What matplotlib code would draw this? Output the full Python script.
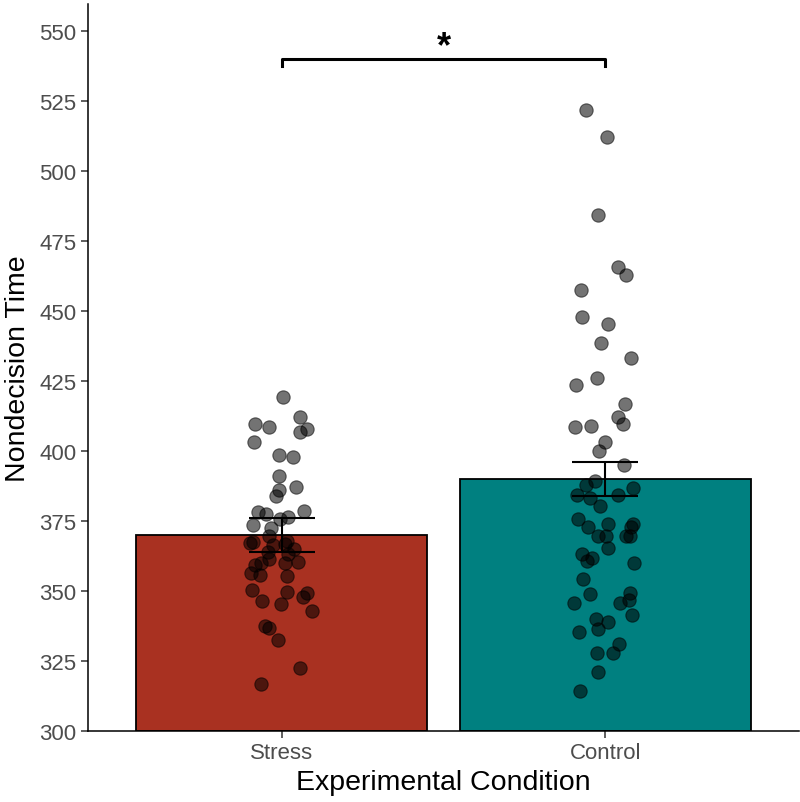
import matplotlib.pyplot as plt
import numpy as np

plt.rcParams['font.family'] = ['Liberation Sans', 'DejaVu Sans']

conditions = ['Stress', 'Control']
bar_means = [369.9, 389.9]
bar_se = [6.2, 6.0]
bar_colors = ['#A93121', '#008080']

stress_vals = [419.1, 412.1, 409.5, 408.4, 407.8, 406.8, 403.2, 398.6, 397.6, 391.0,
               386.9, 386.1, 383.7, 378.2, 377.4, 378.6, 376.4, 375.6, 373.6, 372.3,
               369.6, 367.3, 367.0, 366.3, 367.9, 366.7, 364.9, 363.9, 363.1, 361.3,
               359.9, 359.3, 359.8, 360.4, 356.2, 355.6, 355.1, 350.1, 349.4, 349.1,
               347.9, 346.4, 345.1, 342.8, 337.3, 336.6, 332.5, 322.3, 316.8]
stress_jitter = [0.003, 0.056, -0.084, -0.040, 0.076, 0.056, -0.087, -0.009, 0.033, -0.008,
                 0.043, -0.008, -0.018, -0.073, -0.050, 0.069, 0.020, -0.006, -0.091, -0.034,
                 -0.039, -0.089, -0.099, -0.029, 0.016, 0.009, 0.038, -0.042, 0.020, -0.040,
                 -0.065, -0.084, 0.009, 0.049, -0.096, -0.068, 0.015, -0.092, 0.015, 0.076,
                 0.066, -0.062, -0.002, 0.094, -0.052, -0.041, -0.012, 0.056, -0.066]

control_vals = [521.8, 511.9, 484.3, 465.5, 462.8, 457.5, 447.8, 445.4, 438.4, 433.0,
                426.0, 423.5, 416.6, 411.9, 409.5, 408.6, 408.7, 403.0, 399.8, 395.0,
                389.3, 387.6, 386.8, 384.2, 383.1, 384.2, 380.4, 375.6, 372.8, 373.9,
                373.8, 372.6, 369.4, 369.5, 369.6, 369.6, 365.3, 363.2, 361.7, 360.5,
                359.8, 354.1, 348.7, 345.7, 349.2, 345.7, 346.7, 341.3, 339.8, 338.9,
                336.4, 335.4, 331.1, 327.6, 327.6, 321.0, 314.2]
control_jitter = [-0.061, 0.005, -0.021, 0.038, 0.063, -0.074, -0.073, 0.008, -0.013, 0.081,
                  -0.024, -0.089, 0.061, 0.038, 0.054, -0.095, -0.043, -0.001, -0.019, 0.059,
                  -0.031, -0.059, 0.087, -0.088, -0.047, 0.039, -0.016, -0.083, -0.052, 0.008,
                  0.087, 0.080, -0.023, 0.001, 0.063, 0.077, 0.009, -0.072, -0.041, -0.057,
                  0.090, -0.068, -0.047, -0.096, 0.076, 0.046, 0.075, 0.083, -0.029, 0.008,
                  -0.021, -0.080, 0.042, -0.024, 0.024, -0.021, -0.078]

sig_y = 540
sig_label = '*'

fig = plt.figure(figsize=(8, 8.03), dpi=100)
ax = fig.add_axes([0.11, 0.0888, 0.889, 0.905])

x = np.arange(1, 3)
ax.bar(x, [m - 300 for m in bar_means], bottom=300, width=0.9, color=bar_colors,
       edgecolor='black', linewidth=1.3, zorder=1)

for xi, vals, jit in [(1, stress_vals, stress_jitter), (2, control_vals, control_jitter)]:
    ax.scatter(xi + np.array(jit), vals, s=92, color='black', alpha=0.55,
               edgecolors='black', linewidths=0.8, zorder=2)

ax.errorbar(x, bar_means, yerr=bar_se, fmt='none', ecolor='black', elinewidth=1.5,
            capsize=23.5, capthick=1.5, zorder=3)

# significance bracket
ax.plot([1, 1, 2, 2], [sig_y - 2.5, sig_y, sig_y, sig_y - 2.5], color='black', lw=2.2,
        zorder=3, clip_on=False)
ax.text(1.5, sig_y + 0.8, sig_label, ha='center', va='baseline', fontsize=26,
        fontweight='bold')

ax.set_xlim(0.4, 2.6)
ax.set_ylim(300, 559.5)
ax.set_xticks(x)
ax.set_xticklabels(conditions)
ax.set_yticks(np.arange(300, 551, 25))

for s in ['top', 'right']:
    ax.spines[s].set_visible(False)
for s in ['left', 'bottom']:
    ax.spines[s].set_linewidth(1.1)
ax.tick_params(axis='both', labelsize=16, labelcolor='#4D4D4D', color='#333333',
               length=5, width=1.1)

ax.set_xlabel('Experimental Condition', fontsize=20.5, labelpad=4)
ax.set_ylabel('Nondecision Time', fontsize=20.5, labelpad=6)

fig.savefig('out.png', dpi=100)
